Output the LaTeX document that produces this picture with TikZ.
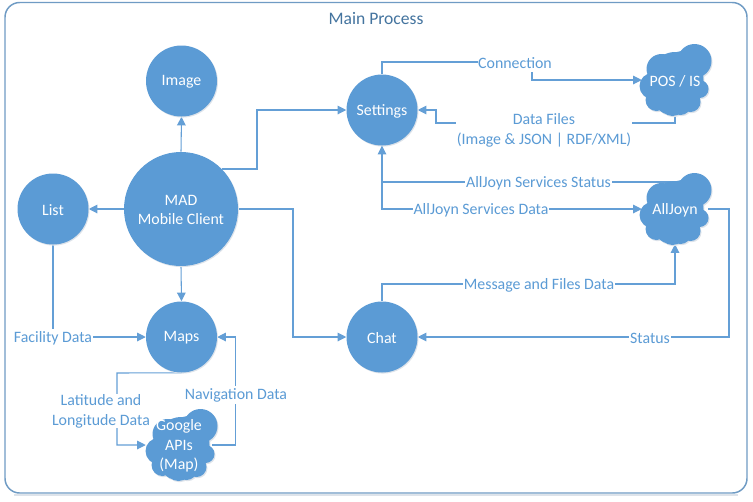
\documentclass[tikz,border=0pt]{standalone}
\usepackage{fontspec}
\setmainfont{Carlito}
\usetikzlibrary{arrows.meta,calc}
\definecolor{blu}{HTML}{5B9BD5}
\definecolor{lin}{HTML}{649FD6}
\definecolor{frm}{HTML}{6F9BC4}
\definecolor{ttl}{HTML}{44749F}
\definecolor{shd}{HTML}{DDE3EA}
\pgfdeclarelayer{bg}
\pgfsetlayers{bg,main}
\newcommand{\cloudblob}[2]{%
  \begin{scope}[shift={(#1,#2)}]
    \foreach \a/\b/\r in {0/0/28,19/-19/17,-14/-11/15,-23/6/13,-19/20/11,-3/23/13,15/22/10,24/9/9,6/-17/12,-8/24/10,5/24/11}{
      \fill[shd] (\a+1,\b+1.2) circle[radius=\r*.75pt];}
    \foreach \a/\b/\r in {0/0/28,19/-19/17,-14/-11/15,-23/6/13,-19/20/11,-3/23/13,15/22/10,24/9/9,6/-17/12,-8/24/10,5/24/11}{
      \fill[blu] (\a,\b) circle[radius=\r*.75pt];}
  \end{scope}}
\tikzset{
  btxt/.style={text=white,align=center,inner sep=0pt,yshift=-.7pt},
  bubble/.style={circle,fill=blu,minimum size=#1*.75pt,inner sep=0pt,
    preaction={fill=shd,transform canvas={shift={(.7pt,-.8pt)}}}},
  bubble/.default=71,
  cloudbox/.style={inner sep=0pt,minimum width=66*.75pt,minimum height=70*.75pt},
  lbl/.style={text=blu,fill=white,align=center,inner sep=0pt,inner xsep=.5pt,minimum height=13.5pt},
  conn/.style={draw=lin,line width=.8pt,-{Triangle[length=6.5pt,width=6.5pt]}},
}
\begin{document}
\begin{tikzpicture}[x=.75pt,y=-.75pt,font=\fontsize{11.9}{14.8}\selectfont]
\useasboundingbox (0,0) rectangle (753,501);
% clouds
\cloudblob{675.5}{80}
\cloudblob{675.5}{209}
\cloudblob{181.5}{445}
% nodes
\node[bubble,label={[btxt]center:Image}] (image) at (181.5,81) {};
\node[bubble,label={[btxt]center:Settings}] (settings) at (382,110) {};
\node[bubble=114,label={[btxt]center:MAD\\Mobile Client}] (mad) at (181,209) {};
\node[bubble,label={[btxt]center:List}] (list) at (53,209) {};
\node[bubble,label={[btxt]center:Maps}] (maps) at (181.5,337) {};
\node[bubble,label={[btxt]center:Chat}] (chat) at (382,337) {};
\node[cloudbox,label={[btxt]center:POS / IS}] (pos) at (675,80) {};
\node[cloudbox,label={[btxt]center:AllJoyn}] (alljoyn) at (675,209) {};
\node[cloudbox,label={[btxt]center:Google\\APIs\\(Map)}] (google) at (179,445) {};
% labels
\node[text=ttl,inner sep=0pt,font=\fontsize{13.2}{15}\selectfont] (title) at (376,18.5) {Main Process};
\node[lbl] (lconn) at (515,63) {Connection};
\node[lbl] (lfiles) at (544,130) {Data Files\\(Image \& JSON | RDF/XML)};
\node[lbl] (lstatus) at (538.5,183) {AllJoyn Services Status};
\node[lbl] (ldata) at (481,210) {AllJoyn Services Data};
\node[lbl] (lmsg) at (539,285) {Message and Files Data};
\node[lbl] (lst) at (650,338) {Status};
\node[lbl] (lfac) at (53,338) {Facility Data};
\node[lbl] (llat) at (101,411) {Latitude and\\Longitude Data};
\node[lbl] (lnav) at (236,395) {Navigation Data};
% connectors
\begin{pgfonlayer}{bg}
\draw[draw=frm,line width=1.1pt,rounded corners=11pt,fill=white] (5,2.5) rectangle (747,493);
\draw[draw=shd,line width=.8pt] (14,495) -- (738,495);
\draw[conn] (mad.north) -- (image.south);
\draw[conn] (mad.west) -- (list.east);
\draw[conn] (mad.south) -- (maps.north);
\draw[conn] ($(mad.center)+(41,-40)$) -- ++(35,0) |- (settings.west);
\draw[conn] (mad.east) -- (293,209) |- (chat.west);
\draw[conn] (list.south) |- (maps.west);
\draw[conn] (maps.south) -- (117,373) |- (google.west);
\draw[conn] (google.east) -- (235.5,445) |- (maps.east);
\draw[conn] (settings.north) -- (382,62) -- (532,62) |- (pos.west);
\draw[conn] (675,116) -- (675,123) -- (436,123) |- (settings.east);
\draw[conn] (673,182) -- (382,182) -- (settings.south);
\draw[conn] (settings.south) |- (alljoyn.west);
\draw[conn] (chat.north) -- (382,284) -- (675,284) -- (alljoyn.south);
\draw[conn] (alljoyn.east) -- (729,209) |- (chat.east);
\end{pgfonlayer}
\end{tikzpicture}
\end{document}
